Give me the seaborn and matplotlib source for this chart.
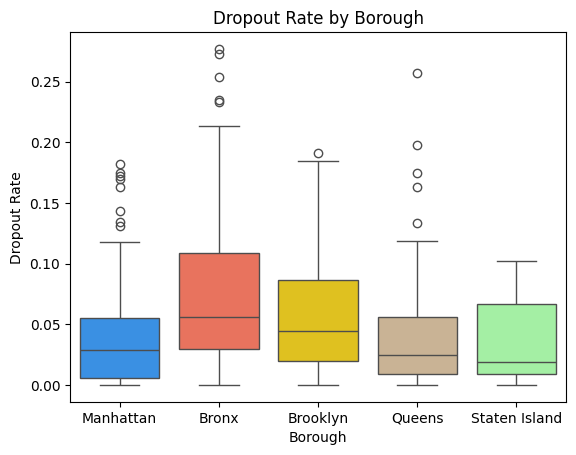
import pandas as pd
import matplotlib
matplotlib.use("Agg")
import matplotlib.pyplot as plt
import seaborn as sns

boroughs = ["Manhattan", "Bronx", "Brooklyn", "Queens", "Staten Island"]
colors = ["dodgerblue", "tomato", "gold", "tan", "palegreen"]

# dropout rates per school
manhattan = [0.0, 0.0, 0.0, 0.001, 0.002, 0.003, 0.004, 0.004, 0.005, 0.0055,
             0.008, 0.011, 0.014, 0.017, 0.020, 0.022, 0.025, 0.027, 0.0285,
             0.031, 0.034, 0.037, 0.040, 0.043, 0.046, 0.049, 0.052, 0.055,
             0.118, 0.131, 0.134, 0.143, 0.163, 0.170, 0.172, 0.175, 0.182]
bronx = [0.0, 0.005, 0.012, 0.018, 0.023, 0.027, 0.030,
         0.034, 0.039, 0.044, 0.048, 0.052, 0.0557,
         0.062, 0.071, 0.080, 0.090, 0.100, 0.1086,
         0.2135, 0.233, 0.235, 0.254, 0.273, 0.277]
brooklyn = [0.0, 0.004, 0.009, 0.013, 0.017, 0.0197,
            0.025, 0.030, 0.035, 0.040, 0.0441,
            0.052, 0.061, 0.070, 0.079, 0.0866,
            0.100, 0.125, 0.150, 0.1848, 0.1916]
queens = [0.0, 0.001, 0.003, 0.005, 0.006, 0.008, 0.0088,
          0.011, 0.014, 0.017, 0.020, 0.022, 0.0244,
          0.029, 0.035, 0.041, 0.046, 0.051, 0.0556,
          0.1187, 0.1338, 0.163, 0.1746, 0.198, 0.257]
staten_island = [0.0, 0.003, 0.006, 0.009, 0.012, 0.016, 0.0189,
                 0.035, 0.052, 0.0664, 0.080, 0.092, 0.1025]

rows = []
for name, vals in zip(boroughs, [manhattan, bronx, brooklyn, queens, staten_island]):
    for v in vals:
        rows.append({"Borough": name, "Dropout Rate": v})
df = pd.DataFrame(rows)

fig, ax = plt.subplots(figsize=(6.4, 4.8), dpi=100)
sns.boxplot(data=df, x="Borough", y="Dropout Rate", hue="Borough",
            order=boroughs, hue_order=boroughs, palette=colors, legend=False, ax=ax)
ax.set_title("Dropout Rate by Borough")
ax.set_xlabel("Borough")
ax.set_ylabel("Dropout Rate")
plt.savefig("out.png", dpi=100, bbox_inches="tight")
plt.close()
